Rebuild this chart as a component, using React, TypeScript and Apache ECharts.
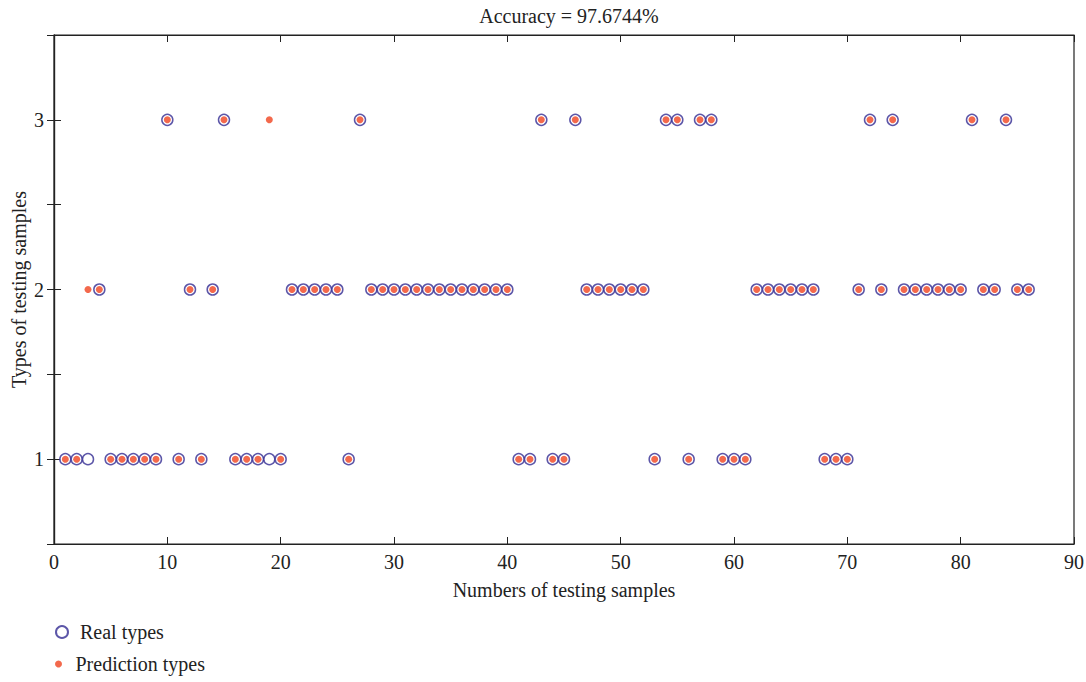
import React, { useEffect, useRef } from "react";
import * as echarts from "echarts";

const titleText = "Accuracy = 97.6744%";
const xAxisName = "Numbers of testing samples";
const yAxisName = "Types of testing samples";
const seriesNames = ["Real types", "Prediction types"];

// Real type of each testing sample (samples 1..86)
const realTypes = [
  1, 1, 1, 2, 1, 1, 1, 1, 1, 3,
  1, 2, 1, 2, 3, 1, 1, 1, 1, 1,
  2, 2, 2, 2, 2, 1, 3, 2, 2, 2,
  2, 2, 2, 2, 2, 2, 2, 2, 2, 2,
  1, 1, 3, 1, 1, 3, 2, 2, 2, 2,
  2, 2, 1, 3, 3, 1, 3, 3, 1, 1,
  1, 2, 2, 2, 2, 2, 2, 1, 1, 1,
  2, 3, 2, 3, 2, 2, 2, 2, 2, 2,
  3, 2, 2, 3, 2, 2,
];

// Predicted type of each testing sample (samples 1..86)
const predTypes = [
  1, 1, 2, 2, 1, 1, 1, 1, 1, 3,
  1, 2, 1, 2, 3, 1, 1, 1, 3, 1,
  2, 2, 2, 2, 2, 1, 3, 2, 2, 2,
  2, 2, 2, 2, 2, 2, 2, 2, 2, 2,
  1, 1, 3, 1, 1, 3, 2, 2, 2, 2,
  2, 2, 1, 3, 3, 1, 3, 3, 1, 1,
  1, 2, 2, 2, 2, 2, 2, 1, 1, 1,
  2, 3, 2, 3, 2, 2, 2, 2, 2, 2,
  3, 2, 2, 3, 2, 2,
];

const FONT = "'Liberation Serif', 'DejaVu Serif', serif";

export default function App() {
  const ref = useRef<HTMLDivElement>(null);

  useEffect(() => {
    if (!ref.current) return;
    const chart = echarts.init(ref.current, undefined, { renderer: "svg" });
    const realData = realTypes.map((v, i) => [i + 1, v]);
    const predData = predTypes.map((v, i) => [i + 1, v]);
    const axisLine = { show: true, lineStyle: { color: "#222", width: 1.2 } };
    const labelStyle = { fontFamily: FONT, fontSize: 20, color: "#222" };
    const tick = { show: true, inside: true, length: 7, lineStyle: { color: "#222" } };
    chart.setOption({
      animation: false,
      backgroundColor: "#fff",
      title: {
        text: titleText,
        left: 564,
        textAlign: "center",
        top: 1,
        textStyle: { fontFamily: FONT, fontSize: 20, fontWeight: "normal", color: "#222" },
      },
      grid: {
        left: 54,
        right: 12,
        top: 35,
        bottom: 138,
        outerBoundsMode: "none",
        containLabel: false,
        show: true,
        borderColor: "#222",
        borderWidth: 1.2,
        backgroundColor: "#fff",
      },
      legend: [
        {
          data: [seriesNames[0]],
          left: 50,
          top: 617,
          itemWidth: 12,
          itemHeight: 12,
          textStyle: { ...labelStyle, padding: [0, 0, 0, 7] },
          selectedMode: false,
        },
        {
          data: [seriesNames[1]],
          left: 50,
          top: 649,
          itemWidth: 14,
          itemHeight: 7,
          textStyle: { ...labelStyle, padding: [0, 0, 0, 5] },
          selectedMode: false,
        },
      ],
      xAxis: [
        {
          type: "value",
          min: 0,
          max: 90,
          interval: 10,
          position: "bottom",
          name: xAxisName,
          nameLocation: "middle",
          nameGap: 36,
          nameMoveOverlap: false,
          nameTextStyle: labelStyle,
          axisLine,
          axisTick: tick,
          axisLabel: { ...labelStyle, margin: 8 },
          splitLine: { show: false },
        },
        {
          type: "value",
          min: 0,
          max: 90,
          interval: 10,
          position: "top",
          axisLine,
          axisTick: tick,
          axisLabel: { show: false },
          splitLine: { show: false },
        },
      ],
      yAxis: [
        {
          type: "value",
          min: 0.5,
          max: 3.5,
          interval: 0.5,
          position: "left",
          name: yAxisName,
          nameLocation: "middle",
          nameGap: 25,
          nameMoveOverlap: false,
          nameTextStyle: labelStyle,
          axisLine,
          axisTick: tick,
          axisLabel: {
            ...labelStyle,
            margin: 10,
            formatter: (v: number) => (Number.isInteger(v) ? String(v) : ""),
          },
          splitLine: { show: false },
        },
        {
          type: "value",
          min: 0.5,
          max: 3.5,
          interval: 0.5,
          position: "right",
          axisLine,
          axisTick: tick,
          axisLabel: { show: false },
          splitLine: { show: false },
        },
      ],
      series: [
        {
          name: seriesNames[0],
          type: "scatter",
          data: realData,
          symbol: "circle",
          symbolSize: 11,
          itemStyle: { color: "#ffffff", borderColor: "#332c92", borderWidth: 1.5 },
          z: 2,
        },
        {
          name: seriesNames[1],
          type: "scatter",
          data: predData,
          symbol: "circle",
          symbolSize: 7,
          itemStyle: { color: "#f0441f" },
          z: 3,
        },
      ],
    });
    return () => chart.dispose();
  }, []);

  return (
    <div
      ref={ref}
      style={{ position: "fixed", left: 0, top: 0, width: 1086, height: 682 }}
    />
  );
}
